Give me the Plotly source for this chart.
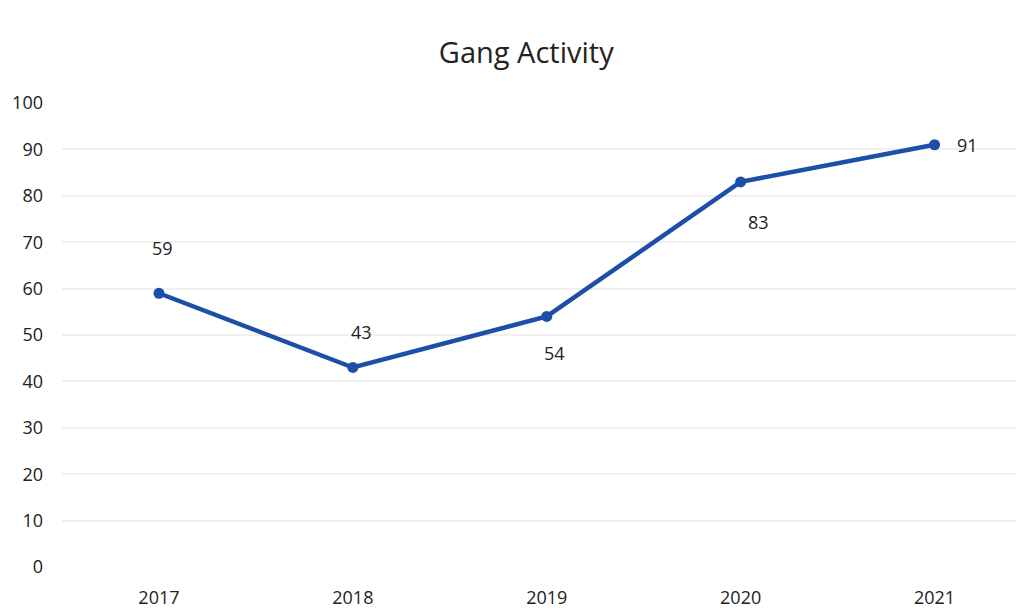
import plotly.graph_objects as go

years = ["2017", "2018", "2019", "2020", "2021"]
activity = [59, 43, 54, 83, 91]
y_ticks = [0, 10, 20, 30, 40, 50, 60, 70, 80, 90, 100]

# label placement per point: (x shift, y shift)
label_shift = [(4, 45), (9, 35), (8, -37), (18, -40), (33, 0)]

line_color = "#1d4fa8"
font = "Open Sans, Noto Sans, sans-serif"

fig = go.Figure()
fig.add_trace(go.Scatter(
    x=years, y=activity, mode="lines+markers",
    line=dict(color=line_color, width=4.5),
    marker=dict(color=line_color, size=11),
    hoverinfo="x+y", showlegend=False,
))

# category axis: annotations are placed by category index
for i, (v, (dx, dy)) in enumerate(zip(activity, label_shift)):
    fig.add_annotation(x=i, y=v, xref="x", yref="y", text=str(v),
                       showarrow=False, xshift=dx, yshift=dy,
                       font=dict(family=font, size=18, color="#222222"))

fig.update_layout(
    width=1016, height=613,
    paper_bgcolor="white", plot_bgcolor="white",
    margin=dict(l=62, r=0, t=103, b=46),
    title=dict(text="Gang Activity", x=0.518, xanchor="center",
               y=0.913, yanchor="middle",
               font=dict(family=font, size=29, color="#222222")),
    font=dict(family=font, size=18, color="#222222"),
)
fig.update_xaxes(type="category", range=[-0.5, 4.42],
                 showgrid=False, showline=False, zeroline=False,
                 ticks="", ticklabelstandoff=18, tickfont=dict(size=18))
fig.update_yaxes(range=[0, 100], tickvals=y_ticks,
                 showgrid=True, gridcolor="#f0f0f0", gridwidth=1.5,
                 zeroline=False, showline=False, ticks="",
                 ticklabelstandoff=18, tickfont=dict(size=18))

fig.write_html("out.html")
